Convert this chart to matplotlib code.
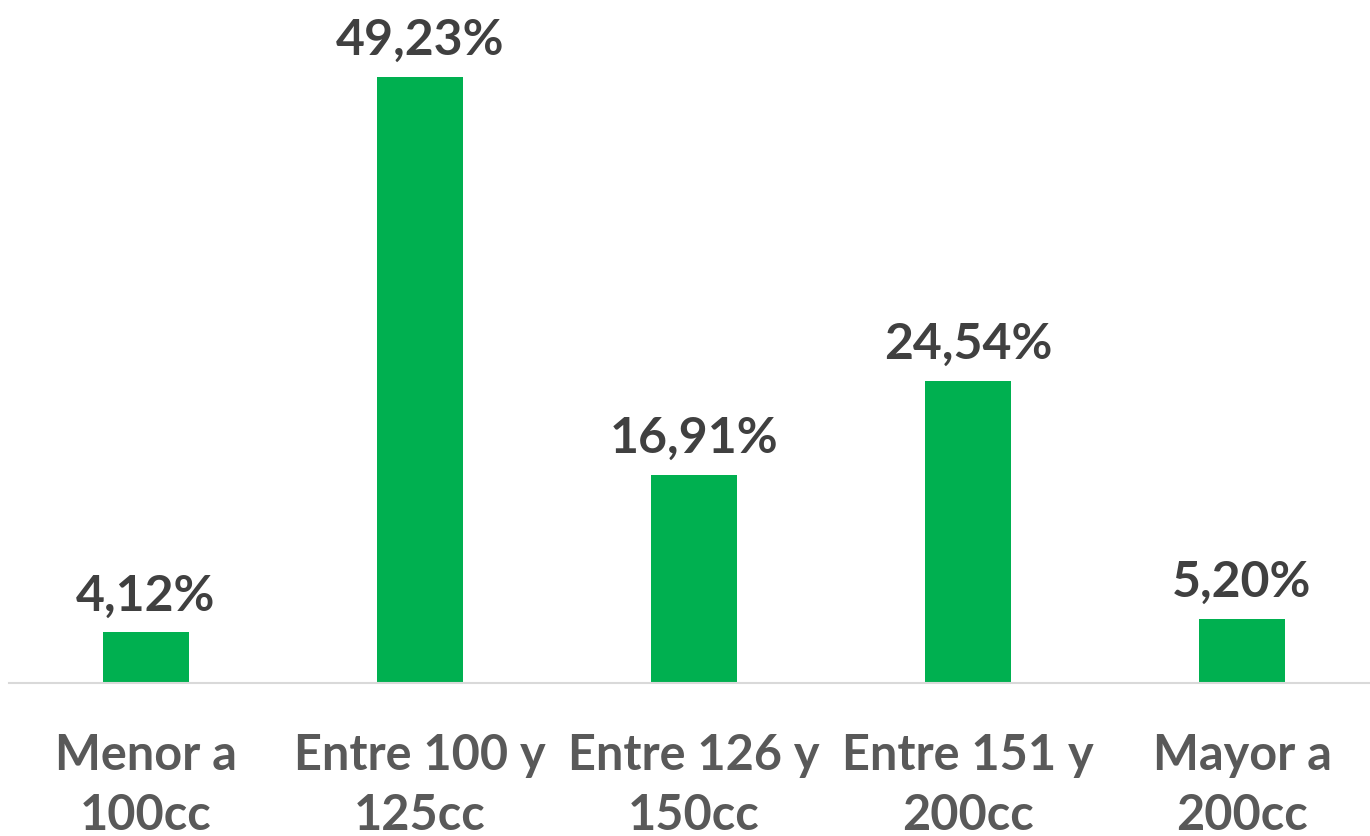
import matplotlib
matplotlib.use("Agg")
import matplotlib.pyplot as plt

categories = ["Menor a\n100cc", "Entre 100 y\n125cc", "Entre 126 y\n150cc",
              "Entre 151 y\n200cc", "Mayor a\n200cc"]
values = [4.12, 49.23, 16.91, 24.54, 5.20]
labels = ["4,12%", "49,23%", "16,91%", "24,54%", "5,20%"]

plt.rcParams['font.family'] = ['Lato', 'DejaVu Sans']

fig = plt.figure(figsize=(13.7, 8.36), dpi=100)
ax = fig.add_axes([9 / 1370, 153 / 836, 1370 / 1370, 677 / 836])

x = list(range(len(values)))
ax.bar(x, values, width=0.314, color="#00B050", zorder=2)

for xi, v, lab in zip(x, values, labels):
    ax.annotate(lab, (xi, v), xytext=(0, 10), textcoords="offset points",
                ha="center", va="bottom", fontsize=36, fontweight="bold",
                color="#404040")

ax.set_xlim(-0.5, 4.5)
ax.set_ylim(0, 55)
ax.set_xticks(x)
ax.set_xticklabels(categories, fontsize=35, fontweight="bold", color="#595959",
                   linespacing=1.4)
ax.tick_params(axis="x", length=0, pad=36)
ax.set_yticks([])
for s in ["top", "right", "left"]:
    ax.spines[s].set_visible(False)
ax.spines["bottom"].set_color("#D9D9D9")
ax.spines["bottom"].set_linewidth(1.5)

fig.savefig("out.png", dpi=100)
